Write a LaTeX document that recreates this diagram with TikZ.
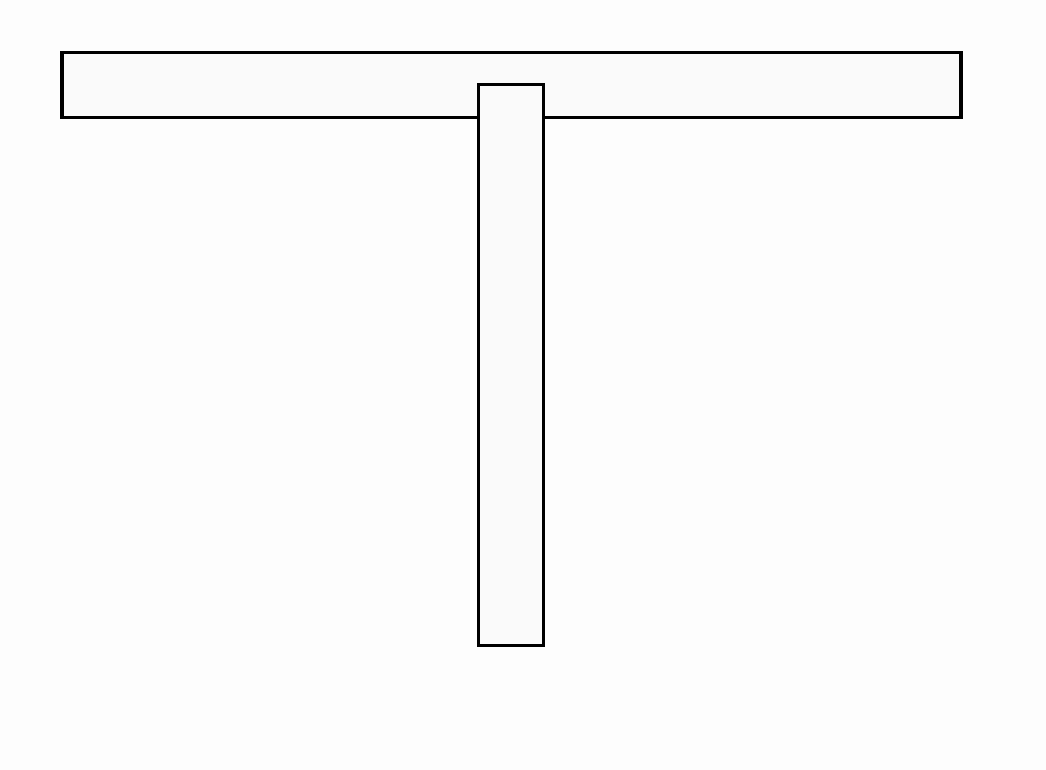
\documentclass[tikz,border=0pt]{standalone}
\usepackage{tikz}
\usetikzlibrary{positioning}
\usepackage{xcolor}
\definecolor{paper}{RGB}{253,253,253}
\definecolor{board}{RGB}{250,250,250}

\begin{document}
\begin{tikzpicture}[
        x=0.02cm, y=-0.02cm,
        plank/.style={rectangle, draw=black, fill=board, line width=2pt, inner sep=0pt}
      ]

      % Canvas
      \fill[paper] (0,0) rectangle (1046,770);
      \useasboundingbox (0,0) rectangle (1046,770);

      % Cross bar
      \node[plank, minimum width=17.98cm, minimum height=1.3cm] (bar) at (511.5,85) {};

      % Upright
      \node[plank, minimum width=1.3cm, minimum height=11.22cm] (stem) at (511,365) {};

    \end{tikzpicture}
\end{document}
